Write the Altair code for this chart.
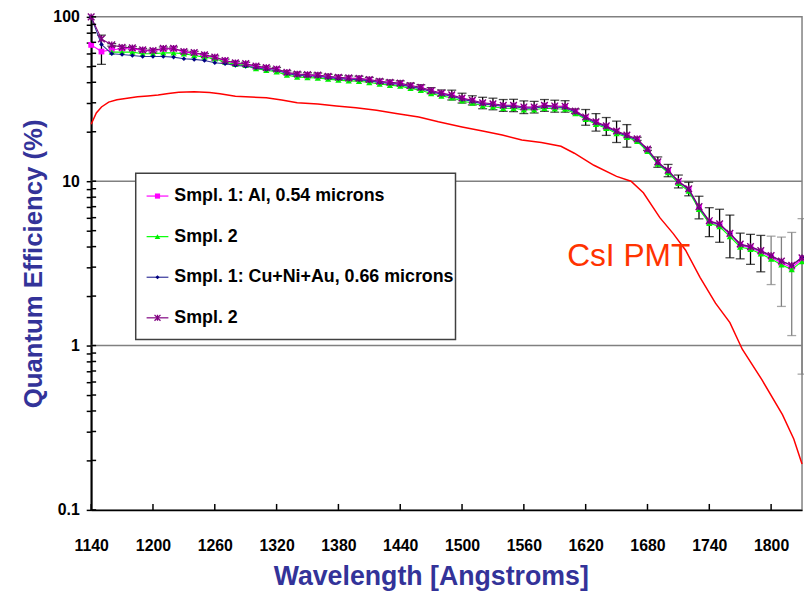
import altair as alt
import pandas as pd

# ---------------- data ----------------
WAVELENGTH = [1140, 1150, 1160, 1170, 1180, 1190, 1200, 1210, 1220, 1230,
              1240, 1250, 1260, 1270, 1280, 1290, 1300, 1310, 1320, 1330,
              1340, 1350, 1360, 1370, 1380, 1390, 1400, 1410, 1420, 1430,
              1440, 1450, 1460, 1470, 1480, 1490, 1500, 1510, 1520, 1530,
              1540, 1550, 1560, 1570, 1580, 1590, 1600, 1610, 1620, 1630,
              1640, 1650, 1660, 1670, 1680, 1690, 1700, 1710, 1720, 1730,
              1740, 1750, 1760, 1770, 1780, 1790, 1800, 1810, 1820, 1830]

AL_SMPL1 = [67.5, 61.5, 63.0, 64.0, 64.0, 62.5, 62.0, 63.8, 64.0, 61.0,
            60.2, 58.4, 56.5, 54.0, 52.2, 51.5, 49.8, 48.8, 47.8, 45.6,
            44.5, 44.1, 43.9, 43.1, 42.5, 42.1, 41.9, 41.2, 40.2, 39.6,
            39.1, 37.8, 36.9, 35.2, 34.1, 33.2, 31.8, 30.8, 29.7, 29.3,
            28.7, 28.7, 28.0, 28.0, 28.7, 28.4, 28.3, 26.4, 24.3, 22.8,
            21.5, 20.0, 18.9, 17.9, 15.5, 12.9, 11.5, 9.9, 8.9, 6.9,
            5.65, 5.4, 4.75, 4.08, 3.93, 3.70, 3.45, 3.18, 2.98, 3.35]

AL_SMPL2 = [None, None, 61.0, 61.0, 61.0, 59.6, 59.6, 60.4, 60.4, 59.6,
            58.2, 56.9, 55.6, 53.1, 51.4, 50.7, 48.4, 47.3, 46.3, 44.2,
            43.1, 42.7, 42.5, 41.8, 41.2, 40.8, 40.6, 39.9, 39.0, 38.4,
            37.9, 36.7, 35.8, 34.2, 33.0, 32.2, 30.8, 29.9, 28.8, 28.4,
            27.8, 27.8, 27.2, 27.2, 27.8, 27.6, 27.5, 25.8, 23.8, 22.2,
            21.0, 19.5, 18.5, 17.5, 15.2, 12.7, 11.3, 9.7, 8.7, 6.75,
            5.55, 5.3, 4.6, 3.98, 3.85, 3.62, 3.36, 3.10, 2.90, 3.25]

CU_SMPL1 = [100, 68.0, 59.6, 59.0, 58.2, 57.4, 57.4, 57.4, 56.9, 55.6,
            55.1, 54.3, 52.6, 51.9, 50.7, 50.0, 49.1, 47.8, 47.3, 45.2,
            44.1, 43.7, 43.5, 42.7, 42.1, 41.7, 41.5, 40.8, 39.9, 39.3,
            38.8, 37.5, 36.6, 35.0, 33.8, 32.9, 31.5, 30.6, 29.5, 29.1,
            28.5, 28.5, 27.8, 27.8, 28.5, 28.2, 28.1, 26.3, 24.2, 22.6,
            21.4, 19.9, 18.8, 17.8, 15.5, 12.9, 11.5, 9.95, 8.9, 6.9,
            5.7, 5.45, 4.8, 4.12, 3.98, 3.76, 3.51, 3.26, 3.07, 3.45]

CU_SMPL2 = [100, 73.4, 67.5, 65.3, 64.8, 63.0, 62.4, 64.4, 64.4, 61.5,
            60.7, 58.8, 56.9, 54.3, 52.6, 51.9, 50.2, 49.1, 48.2, 46.0,
            44.9, 44.5, 44.3, 43.5, 42.9, 42.5, 42.3, 41.6, 40.6, 40.0,
            39.5, 38.2, 37.3, 35.6, 34.4, 33.5, 32.1, 31.1, 30.0, 29.6,
            29.0, 29.0, 28.3, 28.3, 29.0, 28.7, 28.6, 26.7, 24.6, 23.0,
            21.7, 20.2, 19.1, 18.1, 15.7, 13.1, 11.65, 10.0, 9.0, 7.0,
            5.75, 5.5, 4.82, 4.15, 4.0, 3.78, 3.53, 3.27, 3.08, 3.42]

ERR_UP = [0, 4, 1.2, 1.2, 1.2, 1.2, 1.2, 1.2, 1.2, 1.2,
          1.0, 1.0, 1.0, 1.0, 1.0, 1.0, 1.0, 1.0, 1.0, 1.0,
          1.2, 1.2, 1.2, 1.2, 1.2, 1.2, 1.2, 1.2, 1.2, 1.2,
          1.3, 1.3, 1.3, 1.5, 1.5, 2.3, 2.2, 2.0, 2.4, 2.4,
          2.4, 2.5, 2.5, 2.3, 2.4, 2.4, 2.3, 0.8, 2.7, 2.8,
          2.7, 3.0, 3.0, 0.4, 0.3, 0.95, 1.0, 0.9, 0.85, 1.1,
          1.15, 1.25, 1.4, 0.68, 0.75, 0.9, 1.1, 1.3, 1.8, 2.5]

ERR_DOWN = [0, 22, 1.2, 1.2, 1.2, 1.2, 1.2, 1.2, 1.2, 1.2,
            1.0, 1.0, 1.0, 1.0, 1.0, 1.0, 1.0, 1.0, 1.0, 1.0,
            1.2, 1.2, 1.2, 1.2, 1.2, 1.2, 1.2, 1.2, 1.2, 1.2,
            1.3, 1.3, 1.3, 1.5, 1.5, 2.3, 2.2, 2.0, 2.4, 2.4,
            2.4, 2.5, 2.5, 2.3, 2.4, 2.4, 2.3, 0.8, 2.7, 2.8,
            2.7, 3.0, 3.0, 0.4, 0.3, 0.95, 1.0, 0.9, 0.85, 1.1,
            1.15, 1.25, 1.4, 0.78, 0.88, 0.97, 1.18, 1.54, 1.93, 2.75]

PMT_WL = [1140, 1145, 1150, 1157, 1165, 1175, 1185, 1195, 1205, 1215,
          1225, 1240, 1255, 1265, 1280, 1295, 1310, 1325, 1340, 1360,
          1378, 1397, 1417, 1436, 1458, 1477, 1500, 1520, 1539, 1558,
          1577, 1596, 1609, 1628, 1650, 1664, 1676, 1692, 1705, 1717,
          1731, 1746, 1760, 1772, 1791, 1811, 1822, 1830]
PMT_QE = [22.2, 26.0, 28.3, 30.3, 31.3, 32.0, 32.6, 33.0, 33.5, 34.2,
          34.8, 35.0, 34.7, 34.0, 32.9, 32.5, 32.2, 31.2, 30.0, 29.5,
          28.7, 28.0, 27.0, 25.8, 24.6, 23.0, 21.4, 20.2, 19.1, 17.8,
          17.2, 16.3, 14.8, 12.5, 10.7, 10.0, 8.5, 6.0, 4.8, 3.8,
          2.6, 1.81, 1.38, 0.95, 0.62, 0.38, 0.27, 0.19]

SERIES_KEYS = ["al1", "al2", "cu1", "cu2"]
SERIES_LABELS = ["Smpl. 1: Al, 0.54 microns", "Smpl. 2",
                 "Smpl. 1: Cu+Ni+Au, 0.66 microns", "Smpl. 2"]

X_TICKS = [1140, 1200, 1260, 1320, 1380, 1440, 1500, 1560, 1620, 1680, 1740, 1800]
Y_TICKS = [0.1, 0.2, 0.3, 0.4, 0.5, 0.6, 0.7, 0.8, 0.9,
           1, 2, 3, 4, 5, 6, 7, 8, 9,
           10, 20, 30, 40, 50, 60, 70, 80, 90, 100]
Y_GRID = [1, 10]
ANNOT_X = [1602]
ANNOT_Y = [3.5]
ANNOT_TEXT = ["CsI PMT"]

# ---------------- tables ----------------
rows = []
for key, vals in zip(SERIES_KEYS, [AL_SMPL1, AL_SMPL2, CU_SMPL1, CU_SMPL2]):
    for w, v in zip(WAVELENGTH, vals):
        if v is not None:
            rows.append({"wl": w, "qe": v, "key": key})
df = pd.DataFrame(rows)

err_df = pd.DataFrame({"wl": WAVELENGTH, "qe": CU_SMPL2, "up": ERR_UP, "dn": ERR_DOWN})
err_df = err_df[(err_df.up > 0) | (err_df.dn > 0)].copy()
err_df["hi"] = err_df.qe + err_df.up
err_df["lo"] = err_df.qe - err_df.dn

pmt_df = pd.DataFrame({"wl": PMT_WL, "qe": PMT_QE})
annot_df = pd.DataFrame({"wl": ANNOT_X, "qe": ANNOT_Y, "t": ANNOT_TEXT})

W, H = 718, 498
FONT = "Liberation Sans, Arial, Helvetica, sans-serif"
TITLE_COLOR = "#333399"

xscale = alt.Scale(domain=[1140, 1830], nice=False, zero=False)
yscale = alt.Scale(type="log", domain=[0.1, 100], nice=False)

x_axis = alt.Axis(values=X_TICKS, ticks=False, grid=False, domainColor="black",
                  domainWidth=1.5, labelFont=FONT, labelFontSize=16,
                  labelFontWeight="bold", labelColor="black", labelPadding=28,
                  labelOverlap=False, labelFlush=False, title="Wavelength [Angstroms]",
                  titleFont=FONT, titleFontSize=27, titleFontWeight="bold",
                  titleColor=TITLE_COLOR, titleX=343, titleY=75,
                  titleBaseline="alphabetic", titleAlign="center", format="d")
y_axis = alt.Axis(values=Y_TICKS, tickSize=5, tickColor="black", tickWidth=1.5,
                  grid=False, domainColor="black", domainWidth=2,
                  labelFont=FONT, labelFontSize=16, labelFontWeight="bold",
                  labelColor="black", labelPadding=7, labelOverlap=False,
                  labelFlush=False, format="~g",
                  labelExpr="(datum.value == 0.1 || datum.value == 1 || datum.value == 10 || datum.value == 100) ? datum.label : ''",
                  title="Quantum Efficiency (%)", titleFont=FONT, titleFontSize=26,
                  titleFontWeight="bold", titleColor=TITLE_COLOR, titleX=-58,
                  titleY=H / 2, titleAngle=270, titleAlign="center",
                  titleBaseline="middle")


def XF(field):
    return alt.X(field, scale=xscale, axis=x_axis)


def YF(field):
    return alt.Y(field, scale=yscale, axis=y_axis)


layers = []

# gridlines at decades
layers.append(alt.Chart(pd.DataFrame({"g": Y_GRID})).mark_rule(
    color="#808080", strokeWidth=1.5).encode(
    y=YF("g:Q"), x=alt.value(0), x2=alt.value(W)))

# CsI PMT curve
layers.append(alt.Chart(pmt_df).mark_line(color="#FF0000", strokeWidth=1.5).encode(
    x=XF("wl:Q"), y=YF("qe:Q")))

# error bars
bar_color = alt.condition(alt.datum.wl >= 1800, alt.value("#808080"), alt.value("black"))
eb = alt.Chart(err_df)
layers.append(eb.mark_rule(strokeWidth=1.3).encode(
    x=XF("wl:Q"), y=YF("lo:Q"), y2="hi:Q", color=bar_color))
layers.append(eb.mark_tick(orient="horizontal", size=9, thickness=1.3).encode(
    x=XF("wl:Q"), y=YF("lo:Q"), color=bar_color))
layers.append(eb.mark_tick(orient="horizontal", size=9, thickness=1.3).encode(
    x=XF("wl:Q"), y=YF("hi:Q"), color=bar_color))

STAR = "M-1,-1L1,1M-1,1L1,-1M0,-1L0,1"
STYLES = {
    "al1": dict(line="#FF00FF", shape="square", pcolor="#FF00FF", size=34, filled=True),
    "al2": dict(line="#00FF00", shape="triangle-up", pcolor="#00EE00", size=40, filled=True),
    "cu1": dict(line="#333399", shape="diamond", pcolor="#000080", size=22, filled=True),
    "cu2": dict(line="#800080", shape=STAR, pcolor="#800080", size=45, filled=False),
}

for key in SERIES_KEYS:
    s = STYLES[key]
    base = alt.Chart(df).transform_filter(alt.datum.key == key)
    layers.append(base.mark_line(color=s["line"], strokeWidth=1.1).encode(
        x=XF("wl:Q"), y=YF("qe:Q")))
    if s["filled"]:
        pm = base.mark_point(shape=s["shape"], filled=True, color=s["pcolor"],
                             size=s["size"], opacity=1)
    else:
        pm = base.mark_point(shape=s["shape"], filled=False, color=s["pcolor"],
                             size=s["size"], opacity=1, strokeWidth=1.4)
    layers.append(pm.encode(x=XF("wl:Q"), y=YF("qe:Q")))

# inner tick marks
layers.append(alt.Chart(pd.DataFrame({"t": Y_TICKS})).mark_rule(
    color="black", strokeWidth=1.5).encode(
    y=YF("t:Q"), x=alt.value(0), x2=alt.value(5)))
layers.append(alt.Chart(pd.DataFrame({"t": X_TICKS})).mark_rule(
    color="black", strokeWidth=1.5).encode(
    x=XF("t:Q"), y=alt.value(H - 6), y2=alt.value(H)))

# annotation
layers.append(alt.Chart(annot_df).mark_text(
    align="left", baseline="middle", font=FONT, fontSize=32, color="#FF3300").encode(
    x=XF("wl:Q"), y=YF("qe:Q"), text="t:N"))

# legend box
one = alt.Data(values=[{"a": 1}])
layers.append(alt.Chart(one).mark_rect(fill="white", stroke="#404040", strokeWidth=1.5).encode(
    x=alt.value(45), x2=alt.value(368), y=alt.value(158), y2=alt.value(326)))

LEG_Y = [181, 222, 263, 304]
for key, label, ly in zip(SERIES_KEYS, SERIES_LABELS, LEG_Y):
    s = STYLES[key]
    layers.append(alt.Chart(one).mark_rule(color=s["line"], strokeWidth=1.2).encode(
        x=alt.value(56), x2=alt.value(78), y=alt.value(ly)))
    if s["filled"]:
        lp = alt.Chart(one).mark_point(shape=s["shape"], filled=True, color=s["pcolor"],
                                       size=s["size"] * 0.8, opacity=1)
    else:
        lp = alt.Chart(one).mark_point(shape=s["shape"], filled=False, color=s["pcolor"],
                                       size=s["size"] * 0.8, opacity=1, strokeWidth=1.3)
    layers.append(lp.encode(x=alt.value(67), y=alt.value(ly)))
    layers.append(alt.Chart(one).mark_text(
        align="left", baseline="middle", font=FONT, fontSize=18, fontWeight="bold",
        color="black").encode(x=alt.value(84), y=alt.value(ly), text=alt.value(label)))

chart = alt.layer(*layers).properties(
    width=W, height=H,
    padding={"left": 84, "top": 6, "right": 2, "bottom": 82},
    autosize=alt.AutoSizeParams(type="none"),
    background="white",
).configure_view(stroke="#808080", strokeWidth=1.5)

chart.save("out.html", embed_options={"renderer": "svg", "actions": False})
